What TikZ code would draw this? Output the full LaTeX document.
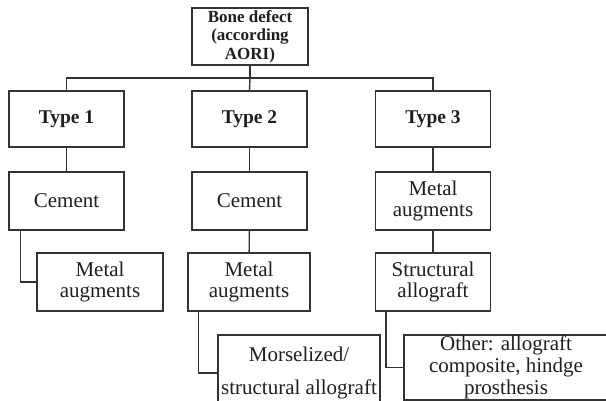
\documentclass[tikz,border=0pt]{standalone}
\usepackage{fontspec}
\setmainfont{Liberation Serif}
\begin{document}
\begin{tikzpicture}[x=1pt,y=-1pt,
  box/.style={draw=black!80, line width=1.4pt, inner sep=0pt, align=center, text=black!88},
  reg/.style={box, font=\fontsize{21}{21}\selectfont},
  typ/.style={box, font=\fontsize{19.5}{20}\selectfont\bfseries, minimum width=115, minimum height=56},
  rootbox/.style={box, font=\fontsize{17}{18.5}\selectfont\bfseries},
  link/.style={draw=black!80, line width=1.4pt}]
\useasboundingbox (0,0) rectangle (606,401);
\clip (0,0) rectangle (606,401);
% root
\node[rootbox, minimum width=116, minimum height=57] (root) at (250,36.5) {Bone defect\\(according\\AORI)};
% types
\node[typ] (t1) at (66.5,119) {Type 1};
\node[typ] (t2) at (249.5,119) {Type 2};
\node[typ] (t3) at (433,119) {Type 3};
% row 2
\node[reg, minimum width=115, minimum height=58] (c1) at (66.5,201) {Cement};
\node[reg, minimum width=115, minimum height=58] (c2) at (249.5,201) {Cement};
\node[reg, minimum width=115, minimum height=58] (m3) at (433,201) {Metal\\augments};
% row 3
\node[reg, minimum width=126, minimum height=58] (m1) at (100,282) {Metal\\augments};
\node[reg, minimum width=122, minimum height=58] (m2) at (249,282) {Metal\\augments};
\node[reg, minimum width=115, minimum height=58] (s3) at (433,282) {Structural\\allograft};
% row 4
\node[reg, minimum width=162, minimum height=76] (mo) at (299,373) {Morselized/\\[12pt]structural allograft};
\node[reg, font=\fontsize{21}{22}\selectfont, minimum width=204, minimum height=65] (ot) at (506,367.5) {Other: allograft\\composite, hindge\\prosthesis};
% connectors
\coordinate (bus) at (250,78);
\draw[link] (root) -- (bus);
\draw[link] (t1.north) |- (bus) -| (t3.north);
\draw[link] (bus) -- (t2.north);
\draw[link] (t1) -- (c1);
\draw[link] (t2) -- (c2);
\draw[link] (t3) -- (m3);
\draw[link] (c2) -- (m2);
\draw[link] (m3) -- (s3);
\draw[link] ([xshift=12pt]c1.south west) |- (m1.west);
\draw[link] ([xshift=11pt]m2.south west) |- (mo.west);
\draw[link] ([xshift=11pt]s3.south west) |- (ot.west);
\end{tikzpicture}
\end{document}
